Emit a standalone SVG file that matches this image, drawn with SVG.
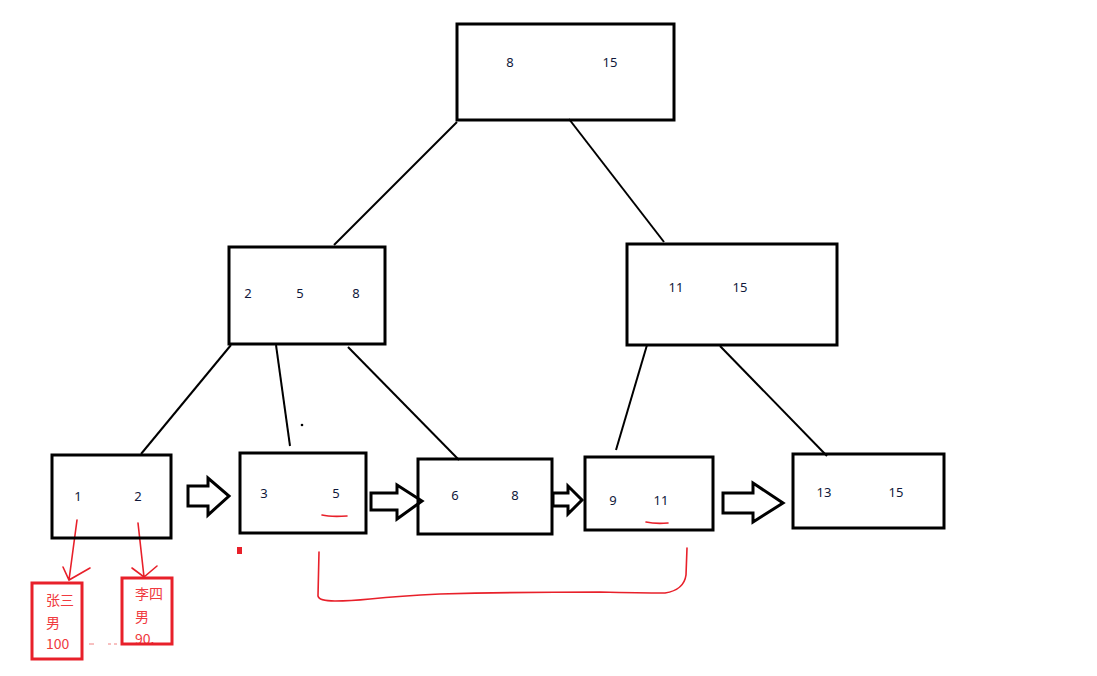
<svg xmlns="http://www.w3.org/2000/svg" width="1097" height="676" viewBox="0 0 1097 676">
<style>
.box{fill:none;stroke:#000;stroke-width:3}
.edge{stroke:#000;stroke-width:2;fill:none}
.blk{fill:#fff;stroke:#000;stroke-width:3;stroke-linejoin:miter}
.num{font-family:"Noto Sans","Open Sans",sans-serif;font-size:13px;fill:#10183a;text-anchor:middle}
.rbox{fill:none;stroke:#e8202a;stroke-width:3}
.rline{fill:none;stroke:#e8202a;stroke-width:1.6;stroke-linecap:round}
.rtxt{font-family:"Noto Sans CJK SC","Noto Sans",sans-serif;font-size:14px;fill:#f03a40}
</style>
<rect width="1097" height="676" fill="#fff"/>
<g id="connectors">
<line class="edge" x1="457" y1="122" x2="334" y2="245"/>
<line class="edge" x1="569" y1="119" x2="664" y2="242"/>
<line class="edge" x1="231" y1="345" x2="141" y2="454"/>
<line class="edge" x1="276" y1="345" x2="290" y2="446"/>
<line class="edge" x1="348" y1="347" x2="459" y2="460"/>
<line class="edge" x1="647" y1="345" x2="616" y2="450"/>
<line class="edge" x1="720" y1="346" x2="827" y2="456"/>
<circle cx="302" cy="425" r="1.3" fill="#000"/>
<polygon class="blk" points="188,486 208,486 208,478 229,496 208,515 208,506 188,506"/>
<polygon class="blk" points="371,493 397,493 397,485 422,501 397,519 397,510 371,510"/>
<polygon class="blk" points="553,493 568,493 568,486 582,500 568,514 568,506 553,506"/>
<polygon class="blk" points="723,493 753,493 753,483 783,503 753,522 753,513 723,513"/>
<path class="rline" d="M77,520 L69,580 M63,567 L69,580 L90,568"/>
<path class="rline" d="M138,523 L144,577 M132,568 L144,577 L157,566"/>
<path class="rline" d="M322,515 Q330,517 347,516"/>
<path class="rline" d="M646,522 Q655,524 668,523"/>
<path class="rline" d="M319,552 L318,596 Q319,601 335,601 Q350,601 370,599 Q400,596 440,594 Q520,592 600,592 Q640,593 665,593 Q684,590 686,575 L687,548"/>
<rect x="237" y="547" width="5" height="7" fill="#e8202a"/>
<path d="M89,644 H94 M108,644 H111 M114,644 H117" stroke="#f08080" stroke-width="1"/>
</g>
<g id="root">
<rect class="box" x="457" y="24" width="217" height="96"/>
<text class="num" x="510" y="67">8</text>
<text class="num" x="610" y="67">15</text>
</g>
<g id="mid-left">
<rect class="box" x="229" y="247" width="156" height="97"/>
<text class="num" x="248" y="298">2</text>
<text class="num" x="300" y="298">5</text>
<text class="num" x="356" y="298">8</text>
</g>
<g id="mid-right">
<rect class="box" x="627" y="244" width="210" height="101"/>
<text class="num" x="676" y="292">11</text>
<text class="num" x="740" y="292">15</text>
</g>
<g id="leaf1">
<rect class="box" x="52" y="455" width="119" height="83"/>
<text class="num" x="78" y="501">1</text>
<text class="num" x="138" y="501">2</text>
</g>
<g id="leaf2">
<rect class="box" x="240" y="453" width="126" height="80"/>
<text class="num" x="264" y="498">3</text>
<text class="num" x="336" y="498">5</text>
</g>
<g id="leaf3">
<rect class="box" x="418" y="459" width="134" height="75"/>
<text class="num" x="455" y="500">6</text>
<text class="num" x="515" y="500">8</text>
</g>
<g id="leaf4">
<rect class="box" x="585" y="457" width="128" height="73"/>
<text class="num" x="613" y="505">9</text>
<text class="num" x="661" y="505">11</text>
</g>
<g id="leaf5">
<rect class="box" x="793" y="454" width="151" height="74"/>
<text class="num" x="824" y="497">13</text>
<text class="num" x="896" y="497">15</text>
</g>
<g id="record1">
<rect class="rbox" x="32" y="583" width="50" height="76"/>
<text class="rtxt" x="46" y="605">张三</text>
<text class="rtxt" x="46" y="628">男</text>
<text class="rtxt" x="46" y="649">100</text>
</g>
<g id="record2">
<text class="rtxt" x="135" y="599">李四</text>
<text class="rtxt" x="135" y="622">男</text>
<text class="rtxt" x="135" y="644">90.</text>
<rect x="119" y="644" width="56" height="12" fill="#fff"/>
<rect class="rbox" x="122" y="578" width="50" height="66"/>
</g>
</svg>
